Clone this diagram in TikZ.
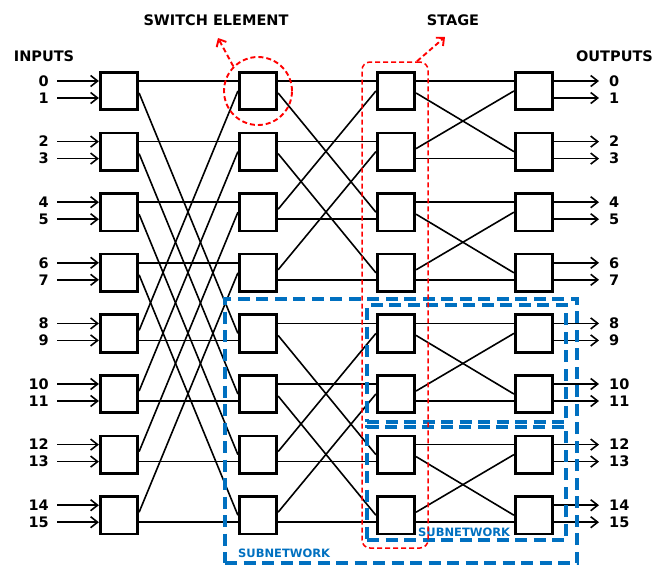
\documentclass[tikz,border=0pt]{standalone}
\usepackage{fontspec}
\setmainfont{DejaVu Sans}
\usetikzlibrary{arrows.meta,calc}
\definecolor{netblue}{RGB}{0,112,192}
\begin{document}
\begin{tikzpicture}[x=1pt,y=-1pt,
  sw/.style={draw, line width=2.7pt, minimum size=37.5pt, inner sep=0pt, fill=white},
  wire/.style={line width=1.6pt},
  arr/.style={line width=1.6pt, -{Straight Barb[length=7pt,width=11pt,line width=1.6pt]}},
  lbl/.style={font=\fontsize{14.5}{17}\selectfont\bfseries, inner sep=0pt},
  ttl/.style={font=\fontsize{14.5}{17}\selectfont\bfseries, inner sep=0pt},
  subnet/.style={draw=netblue, line width=3.2pt, dash pattern=on 12pt off 6.5pt, inner sep=0pt},
  netlbl/.style={text=netblue, font=\fontsize{11.5}{13}\selectfont\bfseries, inner sep=0pt, anchor=west},
  redline/.style={draw=red, line width=1.9pt, dash pattern=on 5pt off 3pt, inner sep=0pt},
  redarrow/.style={draw=red, line width=1.9pt, dash pattern=on 5pt off 3pt, -{Straight Barb[length=6pt,width=11pt,line width=1.9pt]}},
]
\useasboundingbox (0,0) rectangle (654,566);

% switch elements
\foreach \c/\x in {1/119,2/258,3/396,4/534} {
  \foreach \r in {0,...,7} {
    \node[sw] (s\c-\r) at (\x, {91+60.6*\r}) {};
  }
}

% inter-stage wiring
\foreach \s/\d in {1/4,2/2,3/1} {
  \pgfmathtruncatemacro\t{\s+1}
  \foreach \i in {0,...,7} {
    \pgfmathtruncatemacro\b{mod(floor(\i/\d),2)}
    \ifnum\b=0
      \pgfmathtruncatemacro\j{\i+\d}
      \draw[wire] ([yshift=10pt]s\s-\i.east) -- ([yshift=10pt]s\t-\i.west);
      \draw[wire] ([yshift=-2pt]s\s-\i.east) -- (s\t-\j.west);
    \else
      \pgfmathtruncatemacro\j{\i-\d}
      \draw[wire] ([yshift=-7pt]s\s-\i.east) -- ([yshift=-7pt]s\t-\i.west);
      \draw[wire] ([yshift=3pt]s\s-\i.east) -- (s\t-\j.west);
    \fi
  }
}

% inputs and outputs
\foreach \r in {0,...,7} {
  \pgfmathtruncatemacro\a{2*\r}
  \pgfmathtruncatemacro\b{2*\r+1}
  \node[lbl, anchor=east] (in\a) at (49, {81+60.6*\r}) {\a};
  \node[lbl, anchor=east] (in\b) at (49, {98+60.6*\r}) {\b};
  \draw[arr] ([xshift=8pt]in\a.east) -- ([yshift=10pt]s1-\r.west);
  \draw[arr] ([xshift=8pt]in\b.east) -- ([yshift=-7pt]s1-\r.west);
  \node[lbl, anchor=west] (out\a) at (609, {81+60.6*\r}) {\a};
  \node[lbl, anchor=west] (out\b) at (609, {98+60.6*\r}) {\b};
  \draw[arr] ([yshift=10pt]s4-\r.east) -- ([xshift=-10pt]out\a.west);
  \draw[arr] ([yshift=-7pt]s4-\r.east) -- ([xshift=-10pt]out\b.west);
}

% titles
\node[ttl] (inputs) at (44,56) {INPUTS};
\node[ttl] (outputs) at (614.5,56) {OUTPUTS};
\node[ttl] (swel) at (216,20.5) {SWITCH ELEMENT};
\node[ttl] (stg) at (453,20.5) {STAGE};

% subnetworks
\node[subnet, minimum width=352pt, minimum height=264pt] (bignet) at (401,431) {};
\node[subnet, minimum width=199pt, minimum height=117pt] (net1) at (466.5,363.5) {};
\node[subnet, minimum width=199pt, minimum height=113pt] (net2) at (466.5,483.5) {};
\node[netlbl] (bignetlbl) at (238,553) {SUBNETWORK};
\node[netlbl] (net2lbl) at (418,532.5) {SUBNETWORK};

% switch element marker
\node[redline, circle, minimum size=68pt] (se) at (s2-0) {};
\coordinate (setip) at (218,38);
\draw[redarrow] (se.135) -- (setip);

% stage marker
\node[redline, line width=1.5pt, rounded corners=8pt, minimum width=66pt, minimum height=486pt] (stage) at (395,305) {};
\coordinate (stgtip) at (445,37);
\draw[redarrow] ([xshift=22pt]stage.north) -- (stgtip);
\end{tikzpicture}
\end{document}
